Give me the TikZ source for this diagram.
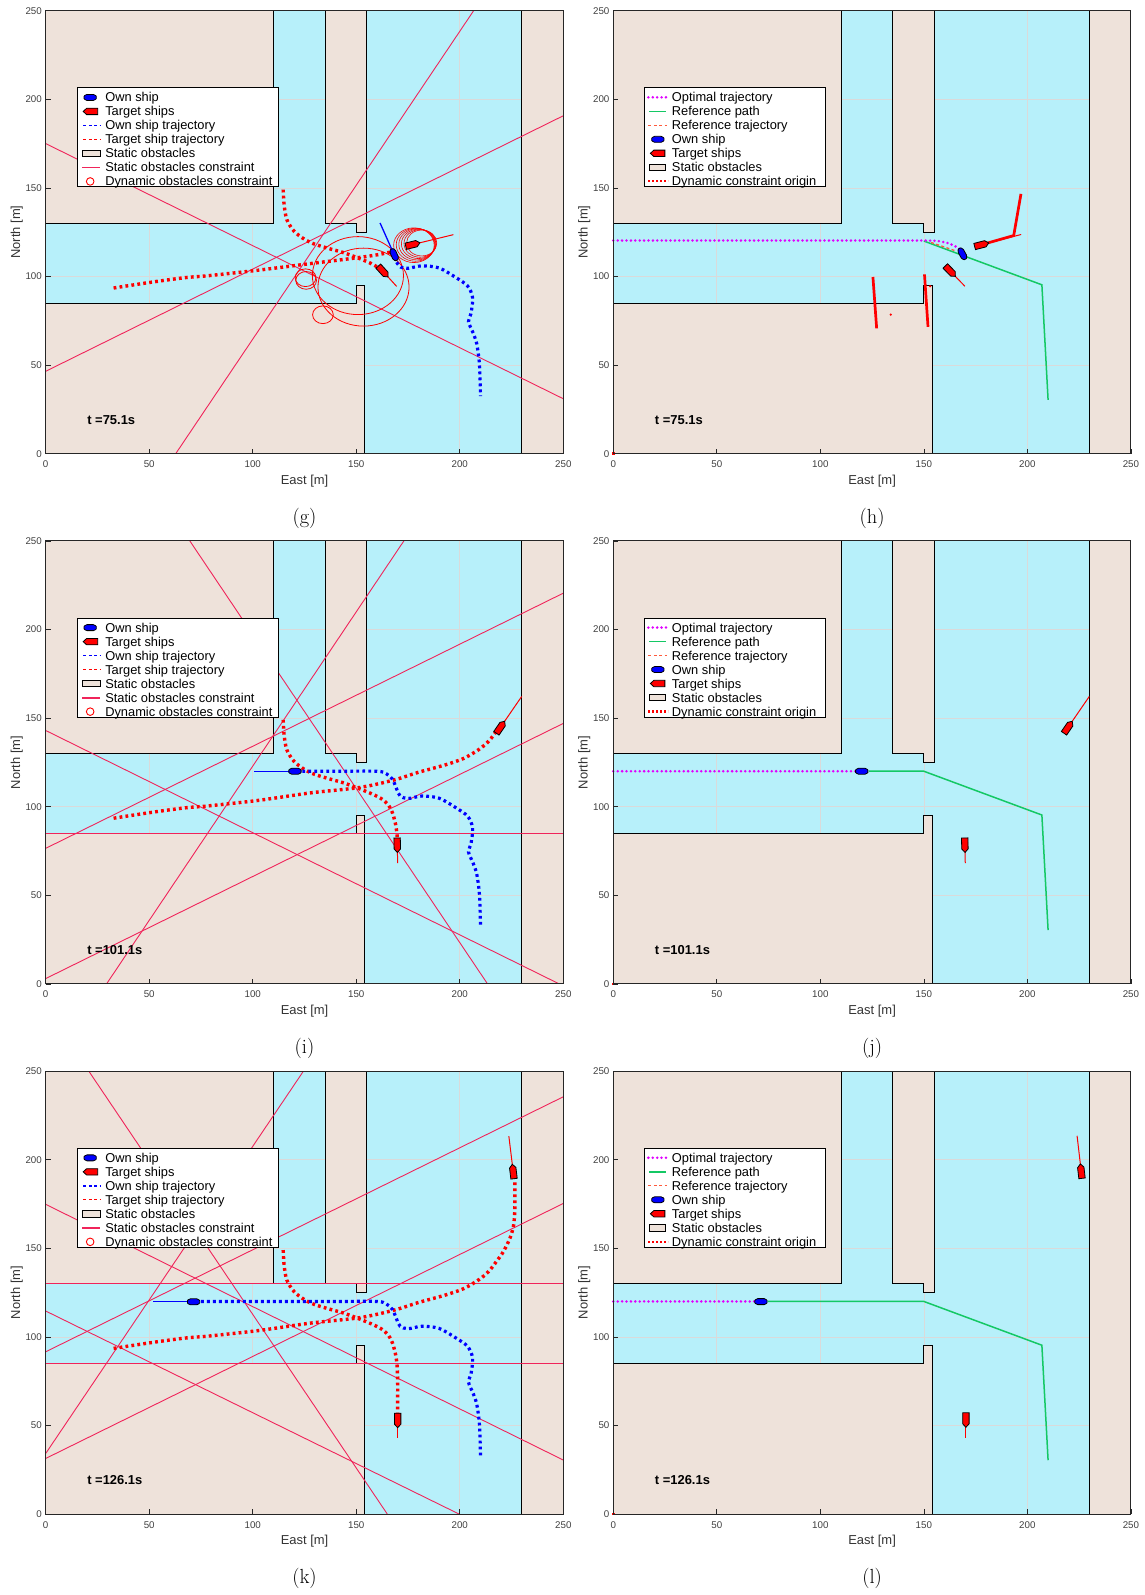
\documentclass[tikz,border=0pt]{standalone}
\usepackage{fontspec}
\setsansfont{Liberation Sans}
\usetikzlibrary{calc}

\definecolor{water}{RGB}{183,240,250}
\definecolor{land}{RGB}{238,226,218}
\definecolor{cline}{RGB}{240,36,90}
\definecolor{optim}{RGB}{224,0,255}
\definecolor{refpath}{RGB}{20,200,100}
\definecolor{reftraj}{RGB}{255,90,60}
\definecolor{gridgray}{RGB}{218,218,218}

\tikzset{
  frame/.style={draw=black!85, line width=1.1bp},
  obst/.style={fill=land, draw=black, line width=0.9bp},
  gridline/.style={draw=gridgray, line width=0.7bp},
  constr/.style={draw=cline, line width=0.9bp},
  dyncirc/.style={draw=red, line width=0.8bp},
  owntraj/.style={draw=blue, line width=3.2bp, dash pattern=on 2.8bp off 3.2bp},
  tartraj/.style={draw=red, line width=3.4bp, dash pattern=on 2.8bp off 3.2bp},
  optraj/.style={draw=optim, line width=2.8bp, line cap=round, dash pattern=on 0bp off 4.4bp},
  refp/.style={draw=refpath, line width=1.5bp},
  reftr/.style={draw=reftraj, line width=1.3bp, dash pattern=on 3bp off 2.4bp},
  dynorig/.style={draw=red, line width=2.7bp},
  velown/.style={draw=blue, line width=1.3bp},
  veltar/.style={draw=red, line width=1bp},
  legbox/.style={fill=white, draw=black, line width=0.9bp},
  ticklbl/.style={font=\sffamily\fontsize{9.8}{10}\selectfont, text=black!75, inner sep=0pt},
  axlbl/.style={font=\sffamily\fontsize{13}{14}\selectfont, text=black!80, inner sep=0pt},
  timelbl/.style={font=\sffamily\bfseries\fontsize{13}{14}\selectfont, anchor=west, inner sep=0pt},
  legtxt/.style={font=\sffamily\fontsize{12.9}{13}\selectfont, anchor=base west, inner sep=0pt},
  sublbl/.style={font=\fontsize{20.5}{22}\selectfont, inner sep=0pt},
  tarship/.pic={\filldraw[fill=red, draw=black, line width=0.8bp] (-7bp,-3.2bp) -- (4bp,-3.2bp) -- (7.5bp,0bp) -- (4bp,3.2bp) -- (-7bp,3.2bp) -- cycle;},
  ownship/.pic={\filldraw[fill=blue, draw=black, line width=0.8bp, rounded corners=1.4bp] (-7bp,0bp) -- (-4.6bp,-3bp) -- (4.6bp,-3bp) -- (7bp,0bp) -- (4.6bp,3bp) -- (-4.6bp,3bp) -- cycle;},
}

% HARBOUR
\newcommand\harbour{%
  \fill[water] (0,0) rectangle (250,250);
  \foreach \g in {50,100,150,200} {
    \draw[gridline] (\g,0) -- (\g,250);
    \draw[gridline] (0,\g) -- (250,\g);
  }
  \filldraw[obst] (0,130) rectangle (110,250);
  \filldraw[obst] (135,250) -- (155,250) -- (155,125) -- (150,125) -- (150,130) -- (135,130) -- cycle;
  \filldraw[obst] (0,0) -- (0,85) -- (150,85) -- (150,95) -- (154,95) -- (154,0) -- cycle;
  \filldraw[obst] (230,0) rectangle (250,250);
}

\newcommand\panelaxes[2]{%
  \draw[frame] (0,0) rectangle (250,250);
  \foreach \g in {0,50,...,250} {
    \draw[frame, line width=0.7bp] (\g,0) -- ++(0bp,5bp);
    \draw[frame, line width=0.7bp] (0,\g) -- ++(5bp,0bp);
    \node[ticklbl, anchor=north, yshift=-6.9bp] at (\g,0) {\g};
    \node[ticklbl, anchor=east, xshift=-3.7bp] at (0,\g) {\g};
  }
  \node[axlbl, yshift=-27bp] (east) at (125,0) {East [m]};
  \node[axlbl, rotate=90, yshift=29bp] (north) at (0,125) {North [m]};
  \node[timelbl] (time) at (20,19) {t =#1s};
  \node[sublbl, yshift=-64.6bp] (sub) at (125,0) {(#2)};
}

\newcommand\tgtship[2]{%
  \draw[veltar] (#1) -- (#2);
  \path let \p1=($(#2)-(#1)$), \n1={atan2(\y1,\x1)} in (#1) pic[rotate=\n1] {tarship};
}
\newcommand\ownshp[3]{%
  \draw[#3] (#1) -- (#2);
  \path let \p1=($(#2)-(#1)$), \n1={atan2(\y1,\x1)} in (#1) pic[rotate=\n1] {ownship};
}

% LEGENDS
\newcommand\legL{%
  \begin{scope}[shift={(15.3,206.4)}]
    \filldraw[legbox] (0bp,0bp) rectangle (201bp,-99bp);
    \pic at (12.8bp,-9.5bp) {ownship};
    \pic[rotate=180] at (13.3bp,-23.5bp) {tarship};
    \draw[blue, line width=1.3bp, dash pattern=on 3bp off 2.4bp] (6bp,-37.5bp) -- (22.5bp,-37.5bp);
    \draw[red, line width=1.2bp, dash pattern=on 3bp off 2.4bp] (6bp,-51.5bp) -- (22.5bp,-51.5bp);
    \filldraw[obst] (5.3bp,-68.8bp) rectangle (23bp,-62.2bp);
    \draw[cline, line width=1.8bp] (5bp,-79.5bp) -- (22.5bp,-79.5bp);
    \draw[red, line width=0.9bp] (12.8bp,-93.5bp) circle (3.8bp);
    \foreach \t [count=\i] in {Own ship, Target ships, Own ship trajectory, Target ship trajectory, Static obstacles, Static obstacles constraint, Dynamic obstacles constraint}
      \node[legtxt] at (27.7bp,{-14bp*\i+0bp}) {\t};
  \end{scope}}

\newcommand\legR{%
  \begin{scope}[shift={(15,206.4)}]
    \filldraw[legbox] (0bp,0bp) rectangle (181bp,-99bp);
    \draw[optraj] (4bp,-9.4bp) -- (24bp,-9.4bp);
    \draw[refp] (5bp,-23.4bp) -- (22bp,-23.4bp);
    \draw[reftr] (4bp,-37.4bp) -- (23bp,-37.4bp);
    \pic at (13.5bp,-51.4bp) {ownship};
    \pic[rotate=180] at (13.5bp,-65.4bp) {tarship};
    \filldraw[obst] (5bp,-82.6bp) rectangle (21.5bp,-76.2bp);
    \draw[red, line width=2.2bp, dash pattern=on 2bp off 2bp] (4bp,-93.4bp) -- (24bp,-93.4bp);
    \foreach \t [count=\i] in {Optimal trajectory, Reference path, Reference trajectory, Own ship, Target ships, Static obstacles, Dynamic constraint origin}
      \node[legtxt] at (27.4bp,{-14bp*\i+0.1bp}) {\t};
  \end{scope}}

\newcommand\origindot{\fill[red] (0,0) ++(-1.3bp,-1.3bp) rectangle ++(2.6bp,2.6bp);}

\begin{document}
\begin{tikzpicture}
\useasboundingbox (0bp,0bp) rectangle (1145bp,1595bp);

% (g)
\begin{scope}[shift={(45.7bp,1141.3bp)}, x=2.0704bp, y=1.772bp]
  \harbour
  \begin{scope}
    \clip (0,0) rectangle (250,250);
    \draw[constr] (0,175) -- (250,31);
    \draw[constr] (0,46.5) -- (250,190.7);
    \draw[constr] (62.8,0) -- (206.7,250);
    \draw[dyncirc] (150.8,100.5) circle (22);
    \draw[dyncirc] (153.5,94) circle (22);
    \draw[dyncirc] (125.5,99.3) circle (5);
    \draw[dyncirc] (125.8,97.8) circle (5);
    \draw[dyncirc] (133.9,78.4) circle (5);
    \foreach \i in {0,...,5}
      \draw[dyncirc, line width=0.6bp] ({181.6-0.75*\i},{118.9-0.25*\i}) circle ({7.3+0.5*\i});
  \end{scope}
  \draw[tartraj] plot[smooth] coordinates {(114.7,149) (115.2,140) (116.5,132) (120,125.5) (125,121) (130,118.2) (137,115.7) (144,113.4) (150.5,110.6) (156.5,107.7) (161,104.8)};
  \draw[tartraj] plot[smooth] coordinates {(32.8,93.5) (50,96.6) (67,99.3) (79,100.5) (103,103.6) (128,107.3) (150,110.5) (160,112.2) (167.4,114)};
  \draw[owntraj] plot[smooth] coordinates {(169.5,108) (171.5,105.3) (175,104.6) (181.7,106) (190,104.8) (198,99.5) (203.8,94.6) (206.2,88) (205.4,79) (204.2,74.5) (206.5,68) (208.2,62) (209.4,52) (209.8,42) (210,32.5)};
  \ownshp{168.3,112.3}{161.5,130.2}{velown}
  \tgtship{162.9,102.9}{169.5,94.4}
  \tgtship{177.2,118}{196.9,123.6}
  \legL
  \panelaxes{75.1}{g}
\end{scope}

% (h)
\begin{scope}[shift={(613.3bp,1141.3bp)}, x=2.0704bp, y=1.772bp]
  \harbour
  \draw[refp] (150,120) -- (207,95.3) -- (210,30.4);
  \draw[reftr] (153.5,119.2) -- (165.5,114.4);
  \draw[optraj] (0,120.3) -- (152,120.3) .. controls (159,120.3) and (164,118.5) .. (167.3,115.4);
  \draw[dynorig] (125.4,99.7) -- (127.2,70.7);
  \draw[dynorig] (150.3,101.2) -- (152,71.6);
  \draw[dynorig] (177.8,117.9) -- (193.4,123.1) -- (196.9,146.6);
  \fill[red] (134,78.5) circle (1.2bp);
  \fill[red] (153,94.5) circle (1.2bp);
  \ownshp{168.6,112.8}{170.9,107.9}{draw=none}
  \tgtship{177.8,117.9}{197,123.7}
  \tgtship{162.7,103.1}{169.8,94.5}
  \origindot
  \legR
  \panelaxes{75.1}{h}
\end{scope}

% (i)
\begin{scope}[shift={(45.7bp,611.1bp)}, x=2.0704bp, y=1.772bp]
  \harbour
  \begin{scope}
    \clip (0,0) rectangle (250,250);
    \draw[constr] (69.6,250) -- (213.4,0);
    \draw[constr] (0,143) -- (248,0);
    \draw[constr] (0,76.5) -- (250,220.5);
    \draw[constr] (0,3) -- (250,147);
    \draw[constr] (29.4,0) -- (173,250);
    \draw[constr] (0,85) -- (250,85);
  \end{scope}
  \draw[tartraj] plot[smooth] coordinates {(114.7,149) (115.2,140) (116.5,132) (120,125.5) (125,121) (130,118.2) (137,115.7) (144,113.4) (150.5,110.6) (157,107.5) (162,104.6) (165.5,101) (167.5,96.5) (169,90) (169.7,84) (169.8,81.3)};
  \draw[tartraj] plot[smooth] coordinates {(32.8,93.5) (50,96.6) (67,99.3) (79,100.5) (103,103.6) (128,107.8) (152,110.9) (168.6,115.2) (180,119.4) (193,123.6) (202,127.3) (209.5,132.5) (214,137) (217.6,142.4)};
  \draw[owntraj] plot[smooth] coordinates {(124,120) (140,120) (160,120) (164.5,118.6) (167.5,115.5) (169.5,110) (171.2,106) (175,104.6) (181.7,106) (190,104.8) (198,99.5) (203.8,94.6) (206.2,88) (205.4,79) (204.2,74.5) (206.5,68) (208.2,62) (209.4,52) (209.8,42) (210,32.5)};
  \ownshp{120.4,120}{100.8,120}{velown}
  \tgtship{169.8,78.4}{170,68.1}
  \tgtship{219.6,144.7}{229.9,162.2}
  \legL
  \panelaxes{101.1}{i}
\end{scope}

% (j)
\begin{scope}[shift={(613.3bp,611.1bp)}, x=2.0704bp, y=1.772bp]
  \harbour
  \draw[refp] (123.5,120) -- (150,120) -- (207,95.3) -- (210,30.4);
  \draw[optraj] (0,120) -- (117,120);
  \ownshp{120,120}{100,120}{draw=none}
  \tgtship{169.8,78.4}{170,68.1}
  \tgtship{219.6,144.7}{229.9,162.2}
  \origindot
  \legR
  \panelaxes{101.1}{j}
\end{scope}

% (k)
\begin{scope}[shift={(45.7bp,80.9bp)}, x=2.0704bp, y=1.772bp]
  \harbour
  \begin{scope}
    \clip (0,0) rectangle (250,250);
    \draw[constr] (20.8,250) -- (165,0);
    \draw[constr] (124.5,250) -- (0,34.2);
    \draw[constr] (0,174.8) -- (250,30.5);
    \draw[constr] (0,114.6) -- (199.7,0);
    \draw[constr] (0,91.6) -- (250,235.5);
    \draw[constr] (0,31.4) -- (250,175.3);
    \draw[constr] (0,130) -- (250,130);
    \draw[constr] (0,85) -- (250,85);
  \end{scope}
  \draw[tartraj] plot[smooth] coordinates {(114.7,149) (115.2,140) (116.5,132) (120,125.5) (125,121) (130,118.2) (137,115.7) (144,113.4) (150.5,110.6) (157,107.5) (162,104.6) (165.5,101) (167.5,96.5) (169,90) (169.7,84) (170,75) (170,65) (170,56.8)};
  \draw[tartraj] plot[smooth] coordinates {(32.8,93.5) (50,96.6) (67,99.3) (79,100.5) (103,103.6) (128,107.8) (152,110.9) (168.6,115.2) (180,119.4) (193,123.6) (202,127.3) (209.5,132.5) (214,137) (217.6,142.4) (221,148) (224.2,155.6) (226,163) (226.6,172) (226.6,180) (226.6,188.5)};
  \draw[owntraj] plot[smooth] coordinates {(75,120) (110,120) (140,120) (160,120) (164.5,118.6) (167.5,115.5) (169.5,110) (171.2,106) (175,104.6) (181.7,106) (190,104.8) (198,99.5) (203.8,94.6) (206.2,88) (205.4,79) (204.2,74.5) (206.5,68) (208.2,62) (209.4,52) (209.8,42) (210,32.5)};
  \ownshp{71.4,119.8}{51.8,119.8}{velown}
  \tgtship{170,53}{170,42.7}
  \tgtship{225.8,193.2}{223.7,213.3}
  \legL
  \panelaxes{126.1}{k}
\end{scope}

% (l)
\begin{scope}[shift={(613.3bp,80.9bp)}, x=2.0704bp, y=1.772bp]
  \harbour
  \draw[refp] (74.5,120) -- (150,120) -- (207,95.3) -- (210,30.4);
  \draw[optraj] (0,120) -- (68.5,120);
  \ownshp{71.3,119.9}{51,119.9}{draw=none}
  \tgtship{170.3,53.2}{170.3,42.9}
  \tgtship{226,193.4}{224,213.5}
  \origindot
  \legR
  \panelaxes{126.1}{l}
\end{scope}
\end{tikzpicture}
\end{document}
